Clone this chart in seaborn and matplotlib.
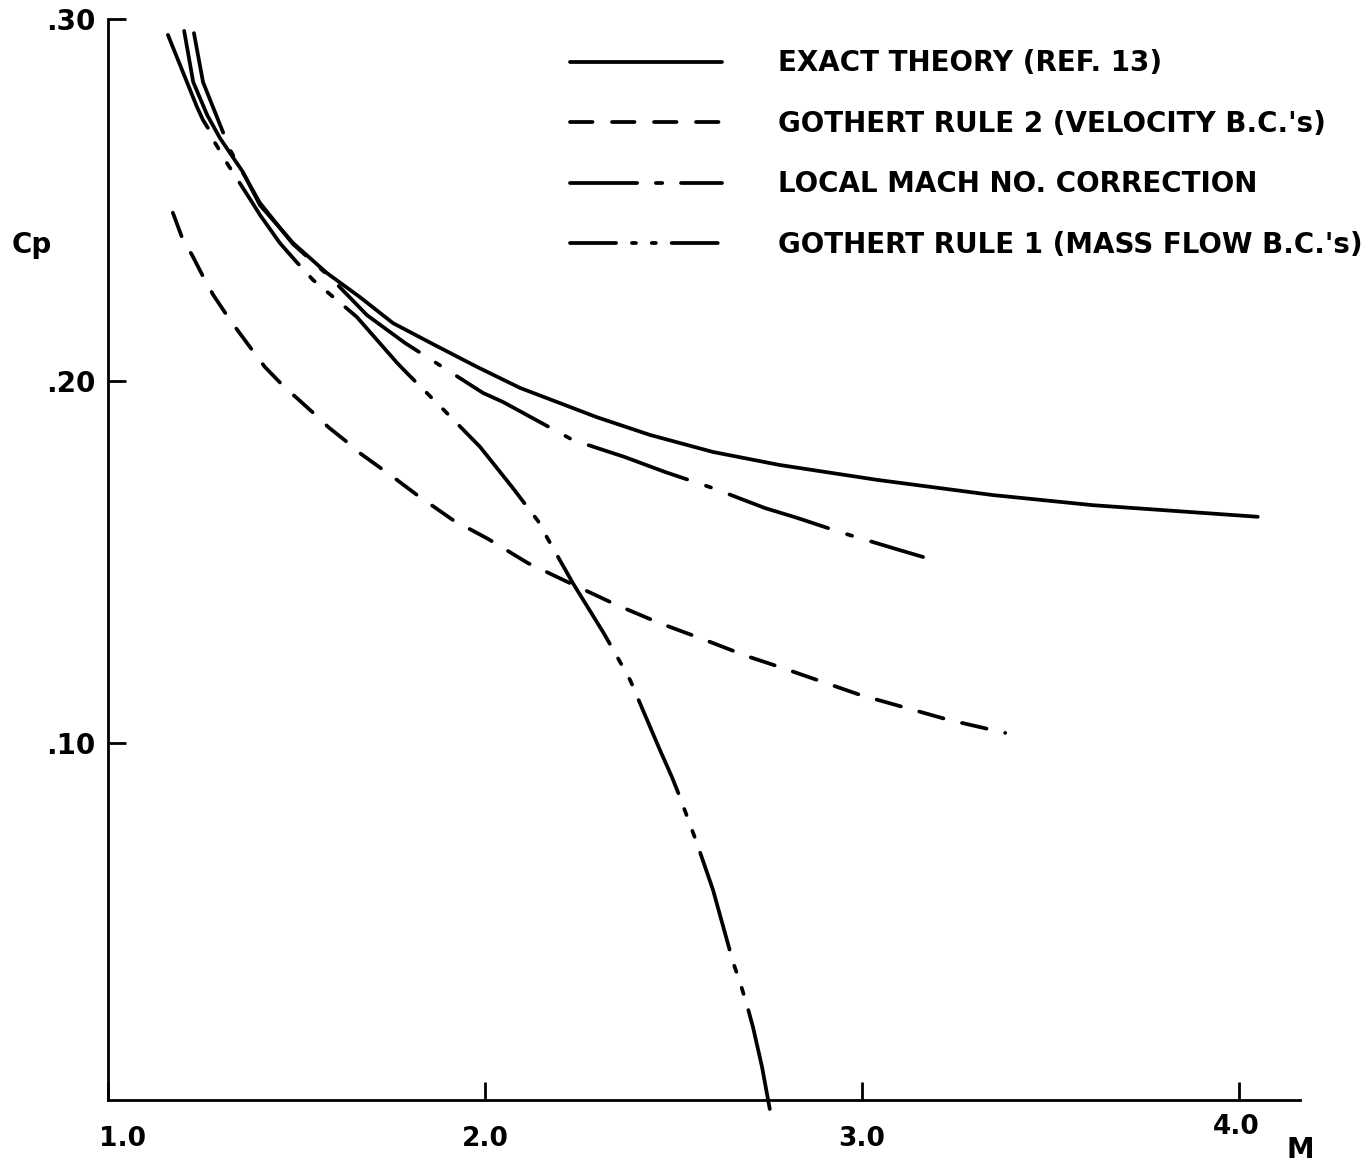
import matplotlib
matplotlib.use("Agg")
import matplotlib.pyplot as plt
import matplotlib.transforms as mtransforms
import seaborn as sns
from matplotlib.lines import Line2D

# ---- data ----
exact_M = [1.202, 1.226, 1.263, 1.297, 1.358, 1.403, 1.491, 1.581, 1.668, 1.756,
           1.862, 1.979, 2.093, 2.297, 2.438, 2.605, 2.782, 3.040, 3.347, 3.613, 4.050]
exact_Cp = [0.2967, 0.2826, 0.2735, 0.2671, 0.2577, 0.2486, 0.2381, 0.2298, 0.2232, 0.2160,
            0.2102, 0.2039, 0.1981, 0.1900, 0.1851, 0.1804, 0.1768, 0.1727, 0.1685, 0.1657, 0.1625]

rule2_M = [1.172, 1.199, 1.223, 1.257, 1.279, 1.324, 1.390, 1.416, 1.470, 1.501,
           1.554, 1.584, 1.637, 1.668, 1.756, 1.820, 1.915, 2.008, 2.114, 2.225,
           2.350, 2.464, 2.578, 2.695, 2.782, 2.995, 3.230, 3.380]
rule2_Cp = [0.2465, 0.2389, 0.2348, 0.2279, 0.2238, 0.2168, 0.2075, 0.2039, 0.1981, 0.1953,
            0.1903, 0.1873, 0.1829, 0.1801, 0.1735, 0.1685, 0.1616, 0.1564, 0.1497, 0.1442,
            0.1381, 0.1331, 0.1287, 0.1240, 0.1210, 0.1133, 0.1064, 0.1028]

local_M = [1.228, 1.252, 1.273, 1.324, 1.403, 1.491, 1.589, 1.687, 1.788, 1.995,
           2.048, 2.101, 2.233, 2.371, 2.477, 2.605, 2.743, 2.828, 2.950, 3.100, 3.162]
local_Cp = [0.2961, 0.2826, 0.2771, 0.2638, 0.2492, 0.2378, 0.2287, 0.2182, 0.2105, 0.1967,
            0.1942, 0.1912, 0.1837, 0.1790, 0.1749, 0.1704, 0.1649, 0.1622, 0.1580, 0.1533, 0.1514]

rule1_M = [1.159, 1.236, 1.252, 1.265, 1.279, 1.292, 1.310, 1.382, 1.403, 1.456,
           1.500, 1.544, 1.576, 1.660, 1.767, 1.793, 1.889, 1.987, 2.072, 2.141,
           2.164, 2.233, 2.313, 2.345, 2.385, 2.464, 2.496, 2.517, 2.562, 2.605,
           2.658, 2.679, 2.698, 2.711, 2.735, 2.756]
rule1_Cp = [0.2956, 0.2757, 0.2721, 0.2699, 0.2666, 0.2644, 0.2611, 0.2494, 0.2459, 0.2381,
            0.2329, 0.2279, 0.2251, 0.2177, 0.2050, 0.2022, 0.1922, 0.1818, 0.1707, 0.1613,
            0.1569, 0.1442, 0.1307, 0.1249, 0.1174, 0.0981, 0.0906, 0.0851, 0.0724, 0.0594,
            0.0395, 0.0331, 0.0265, 0.0215, 0.0105, -0.0014]

legend_labels = ["EXACT THEORY (REF. 13)",
                 "GOTHERT RULE 2 (VELOCITY B.C.'s)",
                 "LOCAL MACH NO. CORRECTION",
                 "GOTHERT RULE 1 (MASS FLOW B.C.'s)"]

x_ticks = [1.0, 2.0, 3.0, 4.0]
x_ticklabels = ["1.0", "2.0", "3.0", "4.0"]
y_ticks = [0.10, 0.20, 0.30]
y_ticklabels = [".10", ".20", ".30"]

# ---- styling ----
sns.set_theme(style="white")
plt.rcParams["font.family"] = ["DejaVu Sans"]
plt.rcParams["text.color"] = "black"
plt.rcParams["axes.labelcolor"] = "black"
plt.rcParams["xtick.color"] = "black"
plt.rcParams["ytick.color"] = "black"

W, H = 1367, 1162
fig = plt.figure(figsize=(W / 100, H / 100), dpi=100)
ax = fig.add_axes([108 / W, 62 / H, 1192 / W, 1081 / H])

LW = 2.7
ls_exact = "-"
ls_rule2 = (0, (6.7, 5.1))
ls_local = (0, (27.8, 5.3, 1.4, 5.3))
ls_rule1 = (0, (27.0, 4.5, 1.7, 4.5, 1.7, 4.5))

for m, c, ls in [(exact_M, exact_Cp, ls_exact),
                 (rule2_M, rule2_Cp, ls_rule2),
                 (local_M, local_Cp, ls_local),
                 (rule1_M, rule1_Cp, ls_rule1)]:
    sns.lineplot(x=m, y=c, ax=ax, color="black", linewidth=LW, linestyle=ls,
                 sort=False, estimator=None, clip_on=False,
                 dash_capstyle="round", solid_capstyle="round")

ax.set_xlim(1.0, 4.162)
ax.set_ylim(0.0014, 0.30)

for s in ["top", "right"]:
    ax.spines[s].set_visible(False)
for s in ["left", "bottom"]:
    ax.spines[s].set_color("black")
    ax.spines[s].set_linewidth(2.0)

ax.set_xticks(x_ticks)
ax.set_xticklabels(x_ticklabels, fontsize=19, fontweight="bold")
ax.set_yticks(y_ticks)
ax.set_yticklabels(y_ticklabels, fontsize=20, fontweight="bold")
ax.tick_params(axis="both", direction="in", length=13, width=2.0, colors="black",
               bottom=True, left=True)
ax.tick_params(axis="x", pad=19)
ax.tick_params(axis="y", pad=9)
ax.set_xlabel("")
ax.set_ylabel("")
ax.grid(False)

# small offsets of individual tick labels as in the original drawing
xl = ax.get_xticklabels()
xl[0].set_transform(xl[0].get_transform() + mtransforms.ScaledTranslation(0.14, 0, fig.dpi_scale_trans))
xl[3].set_transform(xl[3].get_transform() + mtransforms.ScaledTranslation(-0.03, 0.12, fig.dpi_scale_trans))

handles = [
    Line2D([], [], color="black", lw=LW, linestyle=ls_exact, solid_capstyle="round"),
    Line2D([], [], color="black", lw=LW, linestyle=(0, (6.0, 5.2)), dash_capstyle="round"),
    Line2D([], [], color="black", lw=LW, linestyle=(0, (17.9, 5.0, 1.7, 5.0)), dash_capstyle="round"),
    Line2D([], [], color="black", lw=LW, linestyle=(0, (12.3, 4.2, 1.1, 4.2, 1.1, 4.2)), dash_capstyle="round"),
]
ax.legend(handles, legend_labels, loc="upper left", bbox_to_anchor=(0.3876, 0.972),
          frameon=False, prop={"size": 20, "weight": "bold"}, handlelength=5.47,
          handletextpad=2.0, labelspacing=1.17, borderaxespad=0, borderpad=0)

fig.text(32 / W, 1 - 245 / H, "Cp", ha="center", va="center", fontsize=20, fontweight="bold")
fig.text(1300 / W, 1 - 1150 / H, "M", ha="center", va="center", fontsize=20, fontweight="bold")

fig.savefig("out.png", dpi=100, facecolor="white")
